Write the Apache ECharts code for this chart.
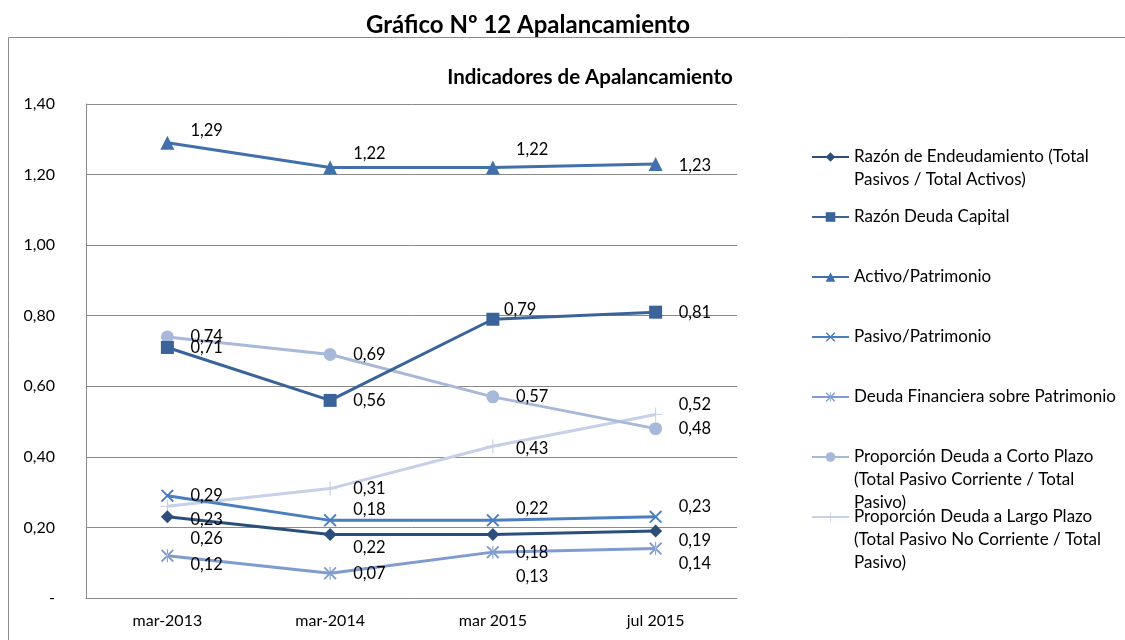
<!DOCTYPE html>
<html>
<head>
<meta charset="utf-8">
<script src="https://cdn.jsdelivr.net/npm/echarts@6/dist/echarts.min.js"></script>
<style>
  html, body { margin: 0; padding: 0; background: #fff; }
  #chart { width: 1125px; height: 640px; }
</style>
</head>
<body>
<div id="chart"></div>
<script>
(function() {
  var categories = ['mar-2013', 'mar-2014', 'mar 2015', 'jul 2015'];
  var yTicks = [0, 0.2, 0.4, 0.6, 0.8, 1.0, 1.2, 1.4];

  var endeudamiento = [0.23, 0.18, 0.18, 0.19];
  var deudaCapital = [0.71, 0.56, 0.79, 0.81];
  var activoPatrimonio = [1.29, 1.22, 1.22, 1.23];
  var pasivoPatrimonio = [0.29, 0.22, 0.22, 0.23];
  var deudaFinanciera = [0.12, 0.07, 0.13, 0.14];
  var cortoPlazo = [0.74, 0.69, 0.57, 0.48];
  var largoPlazo = [0.26, 0.31, 0.43, 0.52];

  var names = [
    'Razón de Endeudamiento (Total\nPasivos / Total Activos)',
    'Razón Deuda Capital',
    'Activo/Patrimonio',
    'Pasivo/Patrimonio',
    'Deuda Financiera sobre Patrimonio',
    'Proporción Deuda a Corto Plazo\n(Total Pasivo Corriente / Total\nPasivo)',
    'Proporción Deuda a Largo Plazo\n(Total Pasivo No Corriente / Total\nPasivo)'
  ];

  var font = 'Lato, "Open Sans", sans-serif';

  // símbolos propios (x, asterisco, cruz)
  var xPath = 'path://M0,1 L1,0 L5,4 L9,0 L10,1 L6,5 L10,9 L9,10 L5,6 L1,10 L0,9 L4,5 Z';
  var starPath = 'path://M0,1 L1,0 L5,4 L9,0 L10,1 L6,5 L10,9 L9,10 L5,6 L1,10 L0,9 L4,5 Z M4.6,0 L4.6,10 L5.4,10 L5.4,0 Z';
  var plusPath = 'path://M4.6,0 L5.4,0 L5.4,4.6 L10,4.6 L10,5.4 L5.4,5.4 L5.4,10 L4.6,10 L4.6,5.4 L0,5.4 L0,4.6 L4.6,4.6 Z';

  // desplazamiento de etiquetas como en el original
  var shifts = [
    [[0, 3], [0, -25], [0, 18], [0, 10]],
    [[0, 0], [0, 0], [-12, -10], [0, 0]],
    [[0, -12], [0, -14], [0, -18], [0, 2]],
    [[0, 0], [0, 27], [0, -12], [0, -10]],
    [[0, 9], [0, 0], [0, 25], [0, 15]],
    [[0, 0], [0, 0], [0, 0], [0, 0]],
    [[0, 32], [0, 0], [0, 2], [0, -10]]
  ];

  var defs = [
    { data: endeudamiento, color: '#2C4E7A', symbol: 'diamond', size: 13 },
    { data: deudaCapital, color: '#3A6399', symbol: 'rect', size: 13 },
    { data: activoPatrimonio, color: '#4170AD', symbol: 'triangle', size: 14 },
    { data: pasivoPatrimonio, color: '#4A7EC0', symbol: xPath, size: 13 },
    { data: deudaFinanciera, color: '#7F9BCF', symbol: starPath, size: 13 },
    { data: cortoPlazo, color: '#A7B8D8', symbol: 'circle', size: 13 },
    { data: largoPlazo, color: '#C6D0E6', symbol: plusPath, size: 14 }
  ];

  function fmt(v) {
    return v.toFixed(2).replace('.', ',');
  }

  var series = defs.map(function(d, k) {
    return {
      name: names[k],
      type: 'line',
      data: d.data.map(function(v, i) {
        return { value: v, label: { offset: shifts[k][i] } };
      }),
      symbol: d.symbol,
      symbolSize: d.size,
      itemStyle: { color: d.color },
      lineStyle: { color: d.color, width: 3 },
      label: {
        show: true,
        position: 'right',
        distance: 23 - d.size / 2,
        color: '#000',
        fontSize: 16.5,
        fontFamily: font,
        formatter: function(p) { return fmt(p.value); }
      },
      z: 10 - k
    };
  });

  // leyenda: cada entrada por separado, con el icono en la primera línea
  var centers = [157, 217, 277, 337, 397, 457, 517];
  var legends = names.map(function(n, k) {
    var lines = n.split('\n').length;
    return {
      left: 811,
      top: centers[k] - (2 * lines - 1) * 11.5,
      orient: 'vertical',
      padding: 0,
      itemWidth: 37,
      itemHeight: 12,
      data: [n],
      formatter: function(name) {
        return new Array(lines).join('\n') + name;
      },
      textStyle: { color: '#000', fontSize: 17, lineHeight: 23, fontFamily: font }
    };
  });

  var myChart = echarts.init(document.getElementById('chart'));
  var option = {
    animation: false,
    title: [
      {
        text: 'Gráfico Nº 12 Apalancamiento',
        left: 523, top: 8, textAlign: 'center',
        textStyle: { fontSize: 24, fontWeight: 'bold', color: '#000', fontFamily: font }
      },
      {
        text: 'Indicadores de Apalancamiento',
        left: 585, top: 62, textAlign: 'center',
        textStyle: { fontSize: 20.5, fontWeight: 'bold', color: '#000', fontFamily: font }
      }
    ],
    graphic: [
      {
        type: 'rect',
        shape: { x: 8.5, y: 37.5, width: 1130, height: 620 },
        style: { fill: 'none', stroke: '#8a8a8a', lineWidth: 1 },
        silent: true
      }
    ],
    legend: legends,
    grid: { left: 86, right: 388, top: 104, bottom: 42 },
    xAxis: {
      type: 'category',
      data: categories,
      boundaryGap: true,
      axisLine: { lineStyle: { color: '#8a8a8a' } },
      axisTick: { show: false },
      axisLabel: { color: '#000', fontSize: 16, fontFamily: font, margin: 15 }
    },
    yAxis: {
      type: 'value',
      min: yTicks[0],
      max: yTicks[yTicks.length - 1],
      interval: 0.2,
      axisLine: { show: true, lineStyle: { color: '#8a8a8a' } },
      axisTick: { show: false },
      splitLine: { lineStyle: { color: '#8a8a8a' } },
      axisLabel: {
        color: '#000', fontSize: 16, fontFamily: font, margin: 31,
        formatter: function(v) { return v === 0 ? '-' : fmt(v); }
      }
    },
    series: series
  };
  myChart.setOption(option);
  window.addEventListener('resize', function() {
    myChart.resize();
  });
})();
</script>
</body>
</html>
